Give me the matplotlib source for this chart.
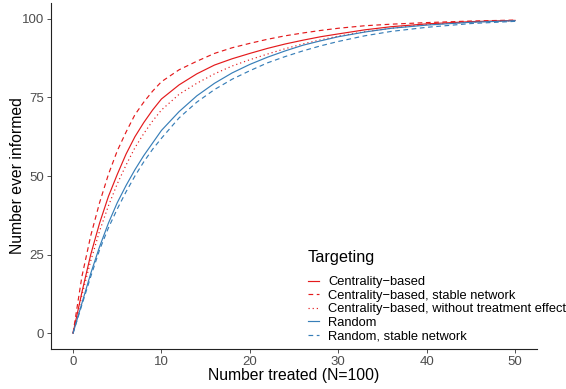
import matplotlib.pyplot as plt

plt.rcParams['font.family'] = ['Liberation Sans', 'DejaVu Sans']

# number treated
treated = [0, 1, 2, 3, 4, 5, 6, 7, 8, 9, 10, 12, 14, 16, 18, 20, 22, 24, 26, 28,
           30, 33, 36, 40, 45, 50]

# number ever informed, one list per targeting strategy
centrality = [0, 13, 25, 35, 43.5, 50.5, 57, 62.5, 67, 71, 74.5, 79, 82.5, 85.3, 87.3,
              89, 90.6, 92, 93.2, 94.3, 95.2, 96.5, 97.5, 98.4, 99.1, 99.5]
centrality_stable = [0, 18, 31, 41.5, 50.5, 58, 64, 69.5, 73.5, 77, 80, 83.8, 86.5, 89,
                     90.8, 92.2, 93.5, 94.6, 95.5, 96.3, 97, 97.8, 98.3, 98.8, 99.3, 99.6]
centrality_no_effect = [0, 12, 23, 32.5, 40.5, 47.5, 53.5, 59, 63.5, 67.5, 71, 76, 79.5,
                        82.5, 85, 87, 88.8, 90.5, 92, 93.3, 94.5, 95.9, 97, 98.2, 99, 99.4]
random_ = [0, 9.5, 19, 27.5, 35, 41.5, 47, 52, 56.5, 60.5, 64.5, 70.5, 75.5, 79.5, 82.8,
           85.5, 87.8, 89.8, 91.6, 93, 94.3, 95.8, 97, 98, 98.9, 99.4]
random_stable = [0, 9, 18, 26.5, 33.5, 39.5, 45, 50, 54.5, 58.5, 62, 68.5, 73.5, 77.5,
                 80.8, 83.5, 86, 88, 89.8, 91.4, 92.8, 94.6, 96, 97.3, 98.5, 99.2]

series_labels = ['Centrality\u2212based',
                 'Centrality\u2212based, stable network',
                 'Centrality\u2212based, without treatment effect',
                 'Random',
                 'Random, stable network']
x_ticks = [0, 10, 20, 30, 40, 50]
y_ticks = [0, 25, 50, 75, 100]

red = '#E41A1C'
blue = '#377EB8'
styles = [(red, '-'), (red, (0, (4, 3))), (red, (0, (1, 2.5))),
          (blue, '-'), (blue, (0, (4, 3)))]

fig = plt.figure(figsize=(5.66, 3.89), dpi=100)
ax = fig.add_axes([0.090, 0.103, 0.859, 0.889])

all_series = [centrality, centrality_stable, centrality_no_effect, random_, random_stable]
for vals, lab, (col, ls) in zip(all_series, series_labels, styles):
    ax.plot(treated, vals, color=col, linestyle=ls, lw=0.85, label=lab)

ax.set_xlim(-2.5, 52.5)
ax.set_ylim(-5, 105)
ax.set_xticks(x_ticks)
ax.set_yticks(y_ticks)
ax.tick_params(colors='#333333', labelcolor='#4D4D4D', labelsize=9.5, length=3,
               width=0.6, pad=1.8)
for s in ['top', 'right']:
    ax.spines[s].set_visible(False)
for s in ['left', 'bottom']:
    ax.spines[s].set_linewidth(0.8)
    ax.spines[s].set_color('#222222')

ax.set_xlabel('Number treated (N=100)', fontsize=11.3, labelpad=0)
ax.set_ylabel('Number ever informed', fontsize=11.3)
ax.yaxis.set_label_coords(-0.054, 0.5)

leg = ax.legend(loc='lower left', bbox_to_anchor=(0.515, 0.0), frameon=False,
                title='Targeting', fontsize=9.3, title_fontsize=11.7,
                handlelength=0.9, handletextpad=0.7, labelspacing=0.12,
                borderaxespad=0.1)
leg._legend_box.align = 'left'
leg._legend_box.sep = 8

fig.savefig('out.png', dpi=100)
